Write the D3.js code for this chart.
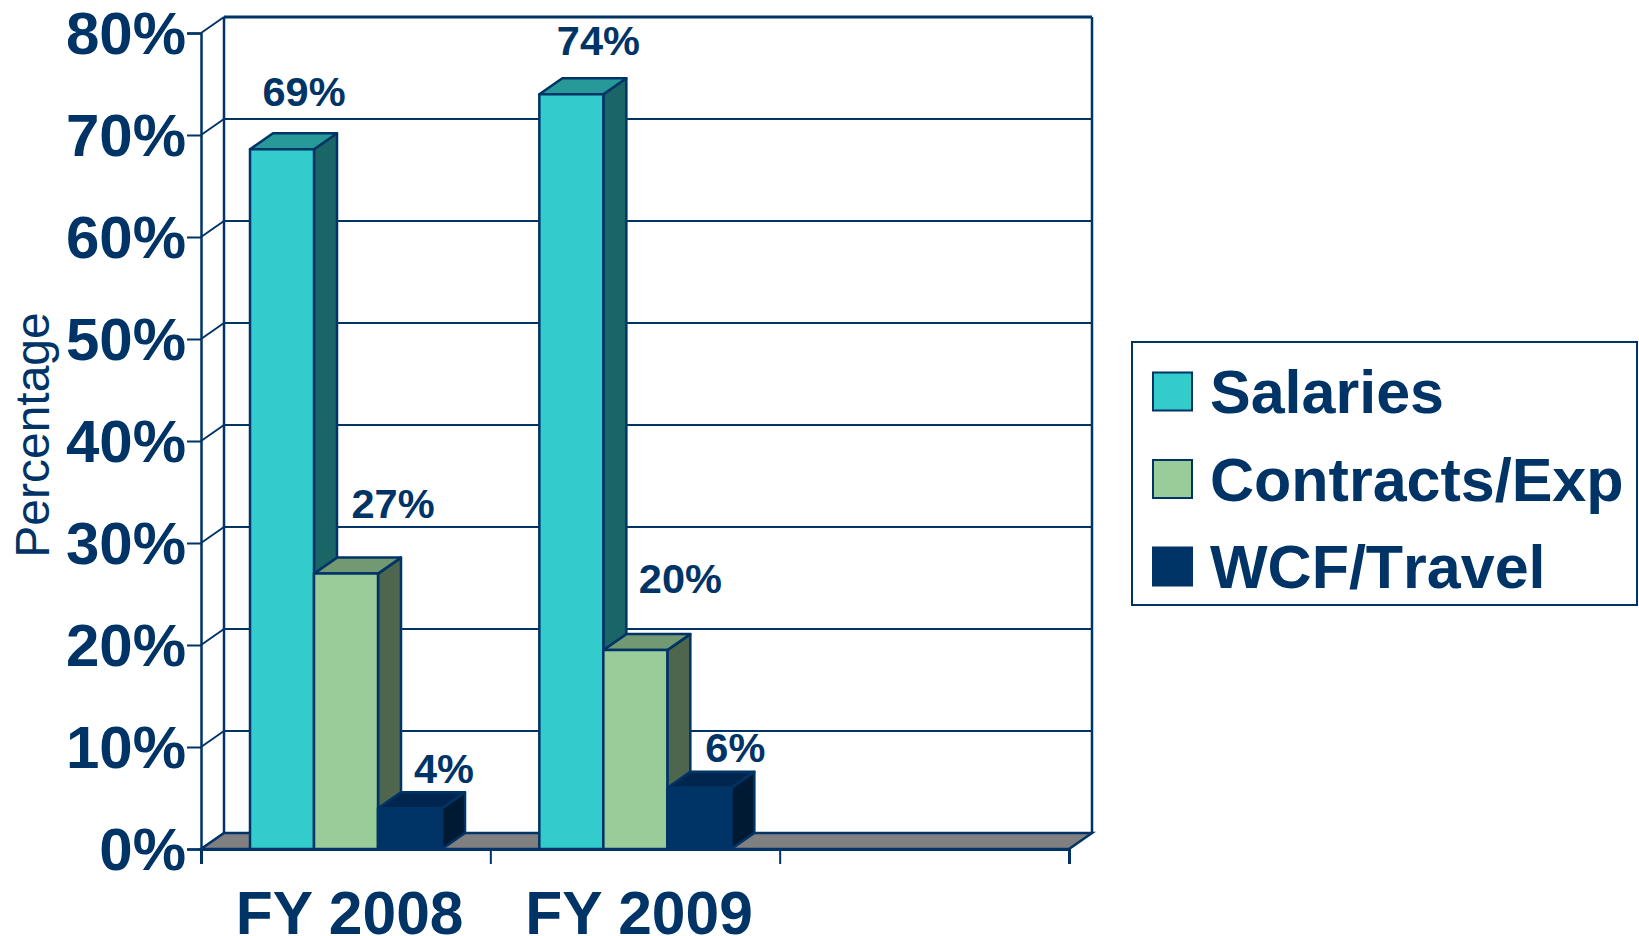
<!DOCTYPE html>
<html>
<head>
<meta charset="utf-8">
<script src="https://cdn.jsdelivr.net/npm/d3@7"></script>
<style>
  body { margin: 0; background: #fff; }
  text { font-family: "Liberation Sans", Arial, sans-serif; fill: #003366; }
</style>
</head>
<body>
<div id="chart"></div>
<script>
var categories = ["FY 2008", "FY 2009", ""];
var seriesNames = ["Salaries", "Contracts/Exp", "WCF/Travel"];
var salaries = [68.6, 74];
var contracts = [27, 19.5];
var wcfTravel = [4, 6];
var yTicks = [0, 10, 20, 30, 40, 50, 60, 70, 80];

var w = 1639;
var h = 936;
var navy = "#003366";
var depthX = 23;  // how far the back wall sits from the front axis
var depthY = 16;
var barDepthX = 23;
var barDepthY = 16;
var barWidth = 64;
var barStart = 49;  // gap from the left of a category to its first bar

var frontColors = ["#33cccc", "#99cc99", "#003366"];
var sideColors = ["#1a6666", "#4d664d", "#001a33"];
var topColors = ["#289999", "#739973", "#002650"];

var values = [salaries, contracts, wcfTravel];

var svg = d3.select("#chart")
    .append("svg")
    .attr("width", w)
    .attr("height", h)
    .style("display", "block");

var yScale = d3.scaleLinear().domain([0, 80]).range([849, 33]);
var xScale = d3.scaleBand().domain(categories).range([201, 1069]);
var xEdges = d3.scaleLinear().domain([0, 3]).range([201, 1069]);

// back wall gridlines and their slanted links to the front axis
yTicks.forEach(function (t) {
    var y = yScale(t);
    svg.append("line")
        .attr("x1", 201).attr("y1", y)
        .attr("x2", 201 + depthX).attr("y2", y - depthY)
        .attr("stroke", navy).attr("stroke-width", 2);
    svg.append("line")
        .attr("x1", 201 + depthX).attr("y1", y - depthY)
        .attr("x2", 1069 + depthX).attr("y2", y - depthY)
        .attr("stroke", navy).attr("stroke-width", t == 80 ? 3 : 2);
});

// back wall verticals
[201 + depthX, 1069 + depthX].forEach(function (x) {
    svg.append("line")
        .attr("x1", x).attr("y1", yScale(80) - depthY)
        .attr("x2", x).attr("y2", yScale(0) - depthY)
        .attr("stroke", navy).attr("stroke-width", 2.5);
});

// floor
var floorPts = [
    [201, yScale(0)], [201 + depthX, yScale(0) - depthY],
    [1069 + depthX, yScale(0) - depthY], [1069, yScale(0)]
];
svg.append("polygon")
    .attr("points", floorPts.join(" "))
    .attr("fill", "#808080")
    .attr("stroke", navy)
    .attr("stroke-width", 2.5);

// y axis
var yAxis = svg.append("g")
    .attr("transform", "translate(201,0)")
    .call(d3.axisLeft(yScale).tickValues(yTicks).tickSize(14).tickFormat(function (d) { return d + "%"; }));
yAxis.select(".domain").attr("stroke", navy).attr("stroke-width", 2.5);
yAxis.selectAll(".tick line").attr("stroke", navy).attr("stroke-width", 2);
yAxis.selectAll(".tick text")
    .attr("x", -15)
    .attr("dy", 20)
    .style("font-size", "60px")
    .style("font-weight", "bold");

// x axis, ticks on the category edges, labels set separately
var xAxis = svg.append("g")
    .attr("transform", "translate(0," + yScale(0) + ")")
    .call(d3.axisBottom(xEdges).ticks(3).tickSize(15).tickFormat(""));
xAxis.select(".domain").attr("stroke", navy).attr("stroke-width", 3);
xAxis.selectAll(".tick line").attr("stroke", navy).attr("stroke-width", 2);

svg.selectAll(".catLabel")
    .data(categories)
    .enter()
    .append("text")
    .attr("class", "catLabel")
    .attr("x", function (d) { return xScale(d) + xScale.bandwidth() / 2 + 4; })
    .attr("y", 934)
    .attr("text-anchor", "middle")
    .style("font-size", "60.5px")
    .style("font-weight", "bold")
    .text(function (d) { return d; });

// y axis title
svg.append("text")
    .attr("transform", "translate(48.5,435) rotate(-90)")
    .attr("text-anchor", "middle")
    .style("font-size", "48px")
    .text("Percentage");

// 3d bars, drawn left to right so each one overlaps the side of the last
// label offsets are per bar, the labels were placed by hand in the original
var labelDx = [[22, 27], [47, 45], [34, 36]];
var labelDy = [[43, 39], [56, 57], [25, 26]];

values.forEach(function (series, s) {
    series.forEach(function (v, c) {
        var x = xScale(categories[c]) + barStart + s * barWidth;
        var top = yScale(v);
        var base = yScale(0);
        var g = svg.append("g").attr("stroke", navy).attr("stroke-width", 2.5).attr("stroke-linejoin", "round");

        g.append("polygon")
            .attr("fill", sideColors[s])
            .attr("points", [[x + barWidth, top], [x + barWidth + barDepthX, top - barDepthY],
                [x + barWidth + barDepthX, base - barDepthY], [x + barWidth, base]].join(" "));
        g.append("polygon")
            .attr("fill", topColors[s])
            .attr("points", [[x, top], [x + barDepthX, top - barDepthY],
                [x + barWidth + barDepthX, top - barDepthY], [x + barWidth, top]].join(" "));
        g.append("rect")
            .attr("x", x).attr("y", top)
            .attr("width", barWidth).attr("height", base - top)
            .attr("fill", frontColors[s]);

        svg.append("text")
            .attr("class", "barLabel")
            .attr("x", x + barWidth / 2 + labelDx[s][c])
            .attr("y", top - labelDy[s][c])
            .attr("text-anchor", "middle")
            .style("font-size", "41.5px")
            .style("font-weight", "bold")
            .text(d3.format(".0f")(v) + "%");
    });
});

// bar labels sit on top of every bar
svg.selectAll(".barLabel").raise();

// legend
svg.append("rect")
    .attr("x", 1132).attr("y", 342)
    .attr("width", 505).attr("height", 263)
    .attr("fill", "#fff")
    .attr("stroke", navy)
    .attr("stroke-width", 2);

seriesNames.forEach(function (name, i) {
    svg.append("rect")
        .attr("x", 1153).attr("y", 372.5 + i * 87.5)
        .attr("width", 39).attr("height", 38)
        .attr("fill", frontColors[i])
        .attr("stroke", navy)
        .attr("stroke-width", 2);
    svg.append("text")
        .attr("x", 1210).attr("y", 413 + i * 87.5)
        .style("font-size", "61px")
        .style("font-weight", "bold")
        .style("font-kerning", "none")
        .text(name);
});
</script>
</body>
</html>
